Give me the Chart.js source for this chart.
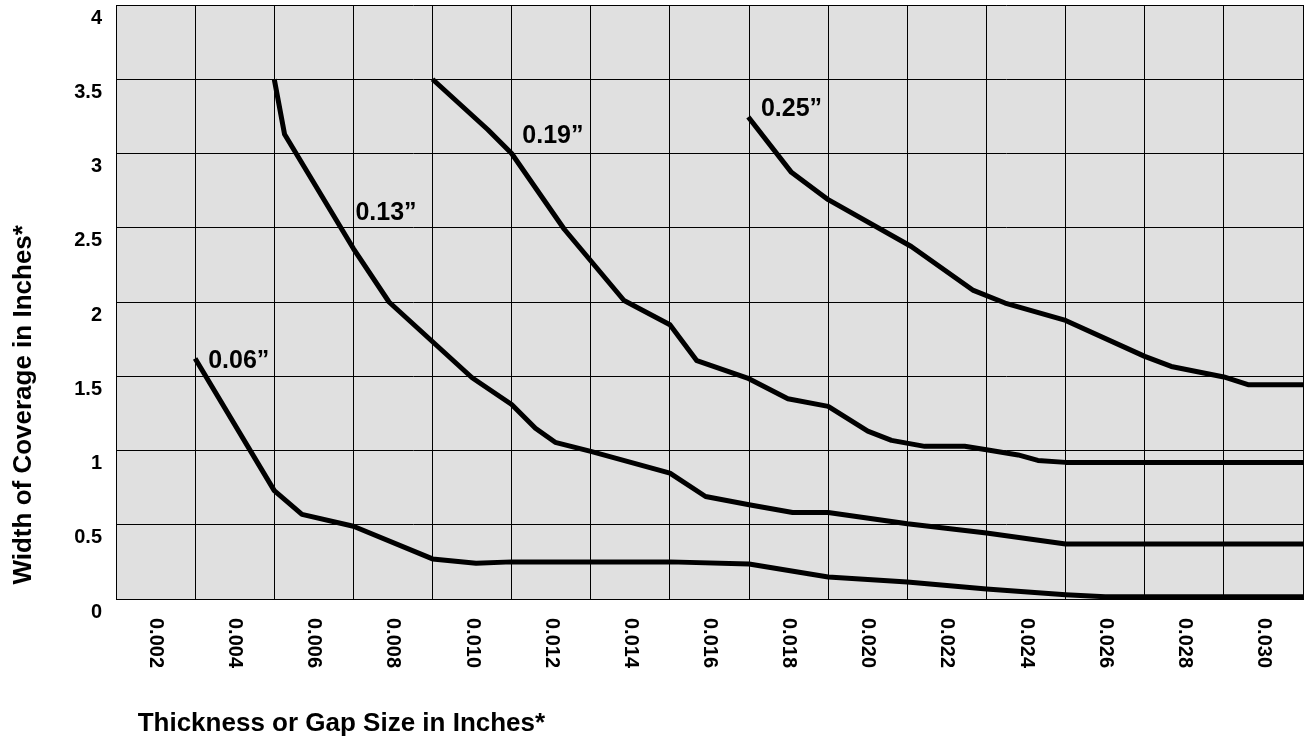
<!DOCTYPE html>
<html>
<head>
<meta charset="utf-8">
<title>Width of Coverage vs Thickness</title>
<script src="https://cdn.jsdelivr.net/npm/chart.js@4.4.1/dist/chart.umd.min.js"></script>
<style>
  html, body { margin: 0; padding: 0; background: #ffffff; }
  #wrap { position: relative; width: 1304px; height: 742px; }
</style>
</head>
<body>
<div id="wrap"><canvas id="coverageChart"></canvas></div>
<script>
// category labels shown under the columns
const xLabels = ['0.002', '0.004', '0.006', '0.008', '0.010', '0.012', '0.014', '0.016',
                 '0.018', '0.020', '0.022', '0.024', '0.026', '0.028', '0.030'];

// 0.06" curve
const gap006X = [0.003, 0.005, 0.0057, 0.007, 0.009, 0.0101, 0.011, 0.015, 0.017, 0.019, 0.021, 0.023, 0.025, 0.026, 0.031];
const gap006Y = [1.62, 0.73, 0.57, 0.49, 0.27, 0.24, 0.25, 0.25, 0.236, 0.148, 0.114, 0.067, 0.029, 0.015, 0.015];

// 0.13" curve
const gap013X = [0.005, 0.00526, 0.007, 0.0079, 0.010, 0.011, 0.0116, 0.0121, 0.013, 0.015, 0.0159, 0.017, 0.0181, 0.019, 0.021, 0.023, 0.025, 0.031];
const gap013Y = [3.5, 3.13, 2.36, 2.0, 1.49, 1.31, 1.15, 1.055, 0.994, 0.848, 0.69, 0.635, 0.583, 0.583, 0.507, 0.444, 0.37, 0.37];

// 0.19" curve
const gap019X = [0.009, 0.0104, 0.011, 0.01233, 0.01384, 0.015, 0.01568, 0.01696, 0.01798, 0.019, 0.020, 0.0206, 0.02144, 0.02245, 0.023, 0.0238, 0.0243, 0.025, 0.031];
const gap019Y = [3.5, 3.16, 3.0, 2.49, 2.01, 1.847, 1.605, 1.488, 1.349, 1.297, 1.13, 1.068, 1.028, 1.028, 1.005, 0.97, 0.933, 0.92, 0.92];

// 0.25" curve
const gap025X = [0.01698, 0.01807, 0.019, 0.0211, 0.02267, 0.02347, 0.025, 0.027, 0.02767, 0.029, 0.02961, 0.031];
const gap025Y = [3.246, 2.873, 2.689, 2.374, 2.078, 1.993, 1.876, 1.634, 1.566, 1.495, 1.443, 1.443];

// curve captions, anchored in data units
const captionText = ['0.06\u201D', '0.13\u201D', '0.19\u201D', '0.25\u201D'];
const captionX = [0.00333, 0.00705, 0.01127, 0.0173];
const captionY = [1.6, 2.6, 3.12, 3.3];

const FONT = "'Liberation Sans', Arial, Helvetica, sans-serif";

function toPoints(xs, ys) {
    return xs.map((x, i) => ({ x: x, y: ys[i] }));
}

function curve(label, xs, ys) {
    return {
        label: label,
        data: toPoints(xs, ys),
        xAxisID: 'xv',
        yAxisID: 'y',
        borderColor: '#000000',
        borderWidth: 5,
        borderJoinStyle: 'round',
        pointRadius: 0,
        pointHoverRadius: 0,
        tension: 0,
        fill: false
    };
}

// grey plot background
const plotBackground = {
    id: 'plotBackground',
    beforeDraw(chart) {
        const { ctx, chartArea } = chart;
        ctx.save();
        ctx.fillStyle = '#e0e0e0';
        ctx.fillRect(chartArea.left, chartArea.top, chartArea.right - chartArea.left, chartArea.bottom - chartArea.top);
        ctx.restore();
    }
};

// captions next to each curve
const curveCaptions = {
    id: 'curveCaptions',
    afterDatasetsDraw(chart) {
        const { ctx } = chart;
        const xs = chart.scales.xv;
        const ys = chart.scales.y;
        ctx.save();
        ctx.fillStyle = '#000000';
        ctx.font = 'bold 25px ' + FONT;
        ctx.textAlign = 'left';
        ctx.textBaseline = 'middle';
        captionText.forEach((t, i) => {
            ctx.fillText(t, xs.getPixelForValue(captionX[i]), ys.getPixelForValue(captionY[i]));
        });
        ctx.restore();
    }
};

new Chart(document.getElementById('coverageChart'), {
    type: 'line',
    data: {
        labels: xLabels,
        datasets: [
            curve('0.06"', gap006X, gap006Y),
            curve('0.13"', gap013X, gap013Y),
            curve('0.19"', gap019X, gap019Y),
            curve('0.25"', gap025X, gap025Y)
        ]
    },
    options: {
        responsive: true,
        maintainAspectRatio: false,
        animation: false,
        layout: { padding: { top: 5, right: 1, bottom: 0, left: 0 } },
        plugins: {
            legend: { display: false },
            tooltip: { enabled: false }
        },
        scales: {
            x: {
                type: 'category',
                position: 'bottom',
                offset: true,
                grid: { offset: true, color: '#000000', lineWidth: 1, drawTicks: false },
                border: { color: '#000000', width: 1 },
                ticks: {
                    autoSkip: false,
                    minRotation: -90,
                    maxRotation: -90,
                    padding: 69,
                    color: '#000000',
                    font: { family: FONT, size: 20, weight: 'bold' }
                },
                title: {
                    display: true,
                    text: '   Thickness or Gap Size in Inches*',
                    align: 'start',
                    color: '#000000',
                    font: { family: FONT, size: 26, weight: 'bold' },
                    padding: { top: 0, bottom: 3 }
                },
                afterFit(scale) {
                    scale.height = 143;
                    scale.paddingLeft = 0;
                    scale.paddingRight = 0;
                }
            },
            xv: {
                type: 'linear',
                position: 'bottom',
                display: false,
                min: 0.001,
                max: 0.031
            },
            y: {
                type: 'linear',
                position: 'left',
                min: 0,
                max: 4,
                grid: { color: '#000000', lineWidth: 1, drawTicks: false },
                border: { color: '#000000', width: 1 },
                ticks: {
                    stepSize: 0.5,
                    padding: 14,
                    labelOffset: 13,
                    color: '#000000',
                    font: { family: FONT, size: 20, weight: 'bold' },
                    callback: function(value) {
                        return String(value);
                    }
                },
                title: {
                    display: true,
                    text: '  Width of Coverage in Inches*',
                    align: 'start',
                    color: '#000000',
                    font: { family: FONT, size: 26, weight: 'bold' },
                    padding: { top: 8, bottom: 0 }
                },
                afterFit(scale) {
                    scale.width = 116;
                    scale.paddingTop = 0;
                    scale.paddingBottom = 0;
                }
            }
        }
    },
    plugins: [plotBackground, curveCaptions]
});
</script>
</body>
</html>
